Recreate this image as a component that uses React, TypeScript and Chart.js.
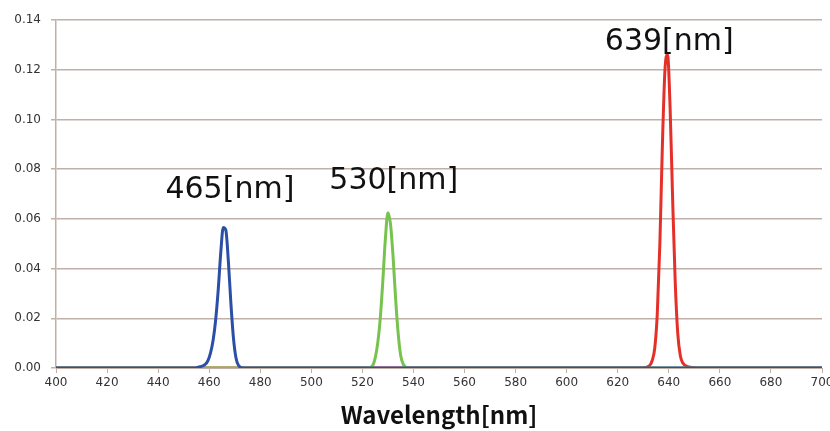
import React, { useEffect, useRef } from "react";
import { Chart, registerables } from "chart.js";

Chart.register(...registerables);

// Blue LED (465 nm)
const blueWl = [400, 454.5, 456.5, 458.5, 459.5, 460.5, 461.5, 462.5, 463.5, 464.5, 465.5, 466.5, 467.5, 468.5, 469.5, 470.5, 471.5, 473.5, 700];
const blueVal = [0, 0, 0.0005, 0.0015, 0.003, 0.006, 0.011, 0.019, 0.031, 0.046, 0.0565, 0.0555, 0.043, 0.026, 0.012, 0.004, 0.001, 0, 0];

// Green LED (530 nm)
const greenWl = [400, 522, 524, 525, 526, 527, 528, 529, 530, 531, 532, 533, 534, 535, 536, 538, 700];
const greenVal = [0, 0, 0.001, 0.004, 0.01, 0.02, 0.035, 0.052, 0.0625, 0.058, 0.045, 0.028, 0.014, 0.005, 0.0015, 0, 0];

// Red LED (639 nm)
const redWl = [400, 629.5, 632.5, 633.5, 634.5, 635.5, 636.5, 637.5, 638.5, 639.5, 640.5, 641.5, 642.5, 643.5, 644.5, 645.5, 647.5, 651.5, 700];
const redVal = [0, 0, 0.001, 0.003, 0.008, 0.022, 0.05, 0.09, 0.12, 0.126, 0.105, 0.068, 0.035, 0.014, 0.005, 0.002, 0.0005, 0, 0];

const peakLabels = ["465[nm]", "530[nm]", "639[nm]"];
const peakLabelX = [468.1, 532.3, 640.2];
const peakLabelY = [0.0716, 0.0752, 0.1311];

const xTitle = "Wavelength[nm]";

const toPoints = (xs: number[], ys: number[]) => xs.map((x, i) => ({ x, y: ys[i] }));

const peakLabelPlugin = {
  id: "peakLabels",
  afterDatasetsDraw(chart: any) {
    const { ctx, scales } = chart;
    ctx.save();
    ctx.fillStyle = "#111";
    ctx.font = "30px 'DejaVu Sans'";
    ctx.textAlign = "center";
    ctx.textBaseline = "middle";
    peakLabels.forEach((t, i) => {
      ctx.fillText(t, scales.x.getPixelForValue(peakLabelX[i]), scales.y.getPixelForValue(peakLabelY[i]));
    });
    ctx.restore();
  },
};

export default function App() {
  const ref = useRef<HTMLCanvasElement>(null);
  useEffect(() => {
    if (!ref.current) return;
    const gridColor = "#c0b0a8";
    const chart = new Chart(ref.current, {
      type: "line",
      data: {
        datasets: [
          {
            data: toPoints(blueWl, blueVal),
            borderColor: "#2b4fa6",
            borderWidth: 3,
            pointRadius: 0,
            cubicInterpolationMode: "monotone",
          },
          {
            data: toPoints(greenWl, greenVal),
            borderColor: "#78c24e",
            borderWidth: 3,
            pointRadius: 0,
            cubicInterpolationMode: "monotone",
          },
          {
            data: toPoints(redWl, redVal),
            borderColor: "#e5302a",
            borderWidth: 3,
            pointRadius: 0,
            cubicInterpolationMode: "monotone",
          },
        ],
      },
      options: {
        responsive: false,
        animation: false,
        layout: { padding: { top: 20, right: 8, left: 0, bottom: 0 } },
        plugins: { legend: { display: false }, tooltip: { enabled: false } },
        scales: {
          x: {
            type: "linear",
            min: 400,
            max: 700,
            afterFit: (s: any) => {
              s.height = 63;
              s.paddingLeft = 0;
              s.paddingRight = 0;
            },
            ticks: {
              stepSize: 20,
              color: "#333",
              padding: 3,
              maxRotation: 0,
              font: { family: "'DejaVu Sans'", size: 12 },
            },
            grid: {
              drawOnChartArea: false,
              drawTicks: true,
              tickLength: 5,
              color: gridColor,
            },
            border: { color: gridColor },
            title: {
              display: true,
              text: xTitle,
              color: "#111",
              font: { family: "'Noto Sans CJK JP'", size: 24, weight: "bold", lineHeight: 1.2 },
              padding: { top: 6, bottom: 2 },
            },
          },
          y: {
            min: 0,
            max: 0.14,
            afterFit: (s: any) => {
              s.width = 56;
            },
            ticks: {
              stepSize: 0.02,
              color: "#333",
              padding: 10,
              font: { family: "'DejaVu Sans'", size: 12 },
              callback: (v: any) => Number(v).toFixed(2),
            },
            grid: { color: gridColor, tickLength: 5, lineWidth: 1.5 },
            border: { color: gridColor, width: 1.5 },
          },
        },
      },
      plugins: [peakLabelPlugin],
    });
    return () => chart.destroy();
  }, []);
  return (
    <div style={{ position: "fixed", left: 0, top: 0, width: 830, height: 431, background: "#fff" }}>
      <canvas ref={ref} width={830} height={431} />
    </div>
  );
}
